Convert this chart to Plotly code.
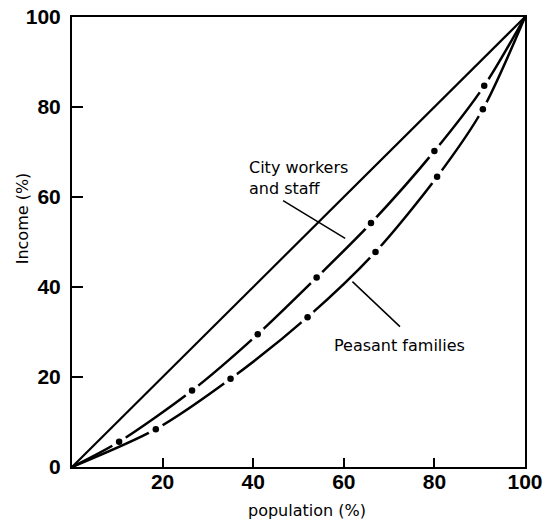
import plotly.graph_objects as go

# ---- data ----
pop_city = [0, 10.4, 26.5, 41, 54, 66, 80, 91, 100]
inc_city = [0, 5.6, 17, 29.5, 42.1, 54.2, 70.2, 84.7, 100]
pop_peasant = [0, 18.5, 35, 52, 67, 80.6, 90.7, 100]
inc_peasant = [0, 8.4, 19.6, 33.3, 47.8, 64.5, 79.5, 100]
equality = [0, 100]
x_ticks = [20, 40, 60, 80, 100]
y_ticks = [0, 20, 40, 60, 80, 100]

BLACK = "#000000"
TEXT_FONT = dict(family="DejaVu Sans, Arial, sans-serif", size=16, color=BLACK)
TICK_FONT = dict(family="Liberation Sans, Arial, sans-serif", size=21, color=BLACK, weight="bold")

fig = go.Figure()

# line of equality
fig.add_trace(go.Scatter(x=equality, y=equality, mode="lines",
                         line=dict(color=BLACK, width=2.2), hoverinfo="skip", showlegend=False))

for xs, ys in [(pop_city, inc_city), (pop_peasant, inc_peasant)]:
    fig.add_trace(go.Scatter(x=xs, y=ys, mode="lines",
                             line=dict(color=BLACK, width=2.5, shape="spline", smoothing=0.8),
                             showlegend=False))
    # white gaps around the dots
    fig.add_trace(go.Scatter(x=xs[1:-1], y=ys[1:-1], mode="markers",
                             marker=dict(color="white", size=16), showlegend=False))
    fig.add_trace(go.Scatter(x=xs[1:-1], y=ys[1:-1], mode="markers",
                             marker=dict(color=BLACK, size=6.5), showlegend=False))

fig.add_annotation(x=38.6, y=69.1, xref="x", yref="y", text="City workers<br>and staff",
                   showarrow=False, xanchor="left", yanchor="top", align="left", font=TEXT_FONT)
fig.add_annotation(x=57.3, y=27.1, xref="x", yref="y", text="Peasant families",
                   showarrow=False, xanchor="left", yanchor="middle", font=TEXT_FONT)
fig.add_shape(type="line", x0=46.6, y0=59.2, x1=60.3, y1=50.8, xref="x", yref="y",
              line=dict(color=BLACK, width=1.5))
fig.add_shape(type="line", x0=61.9, y0=41.2, x1=72.4, y1=31.2, xref="x", yref="y",
              line=dict(color=BLACK, width=1.5))

fig.add_annotation(x=-0.110, y=0.553, xref="paper", yref="paper", text="Income (%)",
                   textangle=-90, showarrow=False, xanchor="center", yanchor="middle",
                   font=TEXT_FONT)
fig.add_annotation(x=0.519, y=-0.0956, xref="paper", yref="paper", text="population (%)",
                   showarrow=False, xanchor="center", yanchor="middle", font=TEXT_FONT)

axis_common = dict(showgrid=False, zeroline=False, showline=True, linecolor=BLACK, linewidth=2,
                   mirror=True, ticks="inside", tickcolor=BLACK, tickwidth=1.5,
                   tickfont=TICK_FONT, range=[0, 100], fixedrange=True, automargin=False,
                   ticklabeloverflow="allow")

fig.update_xaxes(**axis_common, tickvals=x_ticks, ticktext=[str(v) for v in x_ticks], ticklen=9,
                 ticklabelstandoff=-5)
fig.update_yaxes(**axis_common, tickvals=y_ticks, ticktext=[str(v) for v in y_ticks], ticklen=11,
                 ticklabelstandoff=5)

fig.update_layout(width=543, height=519, margin=dict(l=72, r=18, t=17, b=52),
                  plot_bgcolor="white", paper_bgcolor="white", showlegend=False)

# remove the default page margin so the figure fills the window exactly
fig.write_html("out.html", config={"displayModeBar": False},
               post_script="document.body.style.margin='0';")
